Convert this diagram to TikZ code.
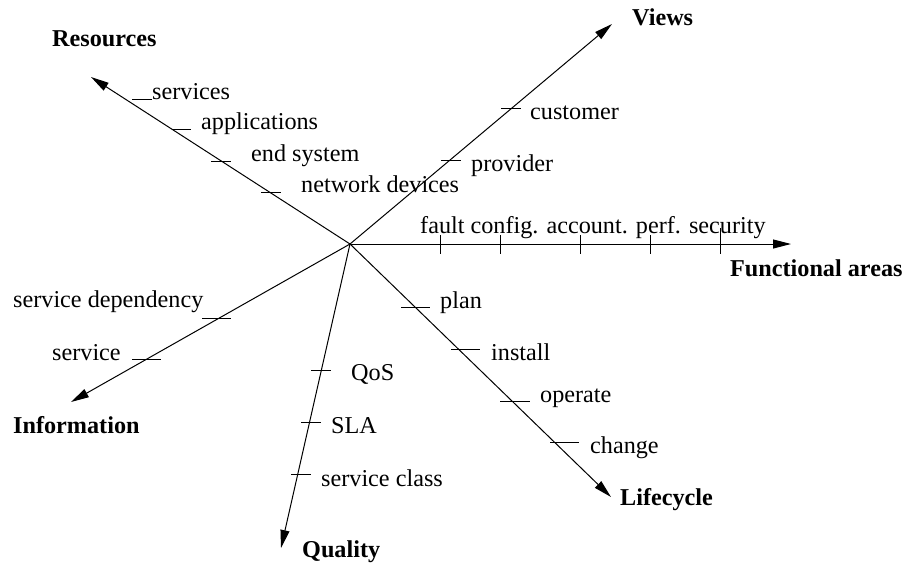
\documentclass[tikz,border=0pt]{standalone}
\usepackage{fontspec}
\setmainfont{Liberation Serif}
\usetikzlibrary{arrows.meta}
\begin{document}
\begin{tikzpicture}[x=1pt,y=-1pt,
  axis/.style={line width=1pt,-{Triangle[length=18pt,width=9pt]}},
  tickln/.style={line width=1pt},
  lbl/.style={anchor=base west,inner sep=0pt,font=\fontsize{24.2}{29}\selectfont},
  head/.style={anchor=base west,inner sep=0pt,font=\fontsize{24.2}{29}\selectfont\bfseries}]
\useasboundingbox (0,0) rectangle (905,566);
% centre and axis ends
\coordinate (C) at (350,244);
\coordinate (Vt) at (612,24);
\coordinate (Ft) at (791,244);
\coordinate (Lt) at (611,497);
\coordinate (Qt) at (281,548);
\coordinate (It) at (71,402);
\coordinate (Rt) at (91,77);
% axes
\draw[axis] (C) -- (Vt);
\draw[axis] (C) -- (Ft);
\draw[axis] (C) -- (Lt);
\draw[axis] (C) -- (Qt);
\draw[axis] (C) -- (It);
\draw[axis] (C) -- (Rt);
% axis titles
\node[head] (views) at (632,25) {Views};
\node[head] (func) at (730,276) {Functional areas};
\node[head] (life) at (620,505) {Lifecycle};
\node[head] (qual) at (302,557) {Quality};
\node[head] (info) at (13,433.5) {Information};
\node[head] (res) at (52,46.7) {Resources};
% Resources
\draw[tickln] (132,99) -- (152,99);
\draw[tickln] (172,129) -- (191,129);
\draw[tickln] (211,161) -- (231,161);
\draw[tickln] (261,192) -- (281,192);
\node[lbl] (r1) at (152,99) {services};
\node[lbl] (r2) at (201,129) {applications};
\node[lbl] (r3) at (251,161) {end system};
\node[lbl] (r4) at (301,192.5) {network devices};
% Views
\draw[tickln] (501,108) -- (521,108);
\draw[tickln] (441,160.5) -- (461,160.5);
\node[lbl] (v1) at (530,119) {customer};
\node[lbl] (v2) at (471,171) {provider};
% Functional areas
\foreach \x in {440,500,580,650} \draw[tickln] (\x,235) -- (\x,254);
\draw[tickln] (720,228) -- (720,254);
\node[lbl] (f1) at (420,233.5) {fault config. account. perf. security};
% Lifecycle
\draw[tickln] (401,307) -- (430,307);
\draw[tickln] (451,349) -- (480,349);
\draw[tickln] (500,401) -- (530,401);
\draw[tickln] (550,442) -- (579,442);
\node[lbl] (l1) at (440,308) {plan};
\node[lbl] (l2) at (491,360) {install};
\node[lbl] (l3) at (540,402) {operate};
\node[lbl] (l4) at (590,453) {change};
% Quality
\draw[tickln] (311,370) -- (331,370);
\draw[tickln] (301,422) -- (321,422);
\draw[tickln] (291,474) -- (311,474);
\node[lbl] (q1) at (351,380) {QoS};
\node[lbl] (q2) at (331,433) {SLA};
\node[lbl] (q3) at (321,486.5) {service class};
% Information
\draw[tickln] (202,318) -- (231,318);
\draw[tickln] (132,359) -- (161,359);
\node[lbl] (i1) at (13,307) {service dependency};
\node[lbl] (i2) at (52,360.7) {service};
\end{tikzpicture}
\end{document}
